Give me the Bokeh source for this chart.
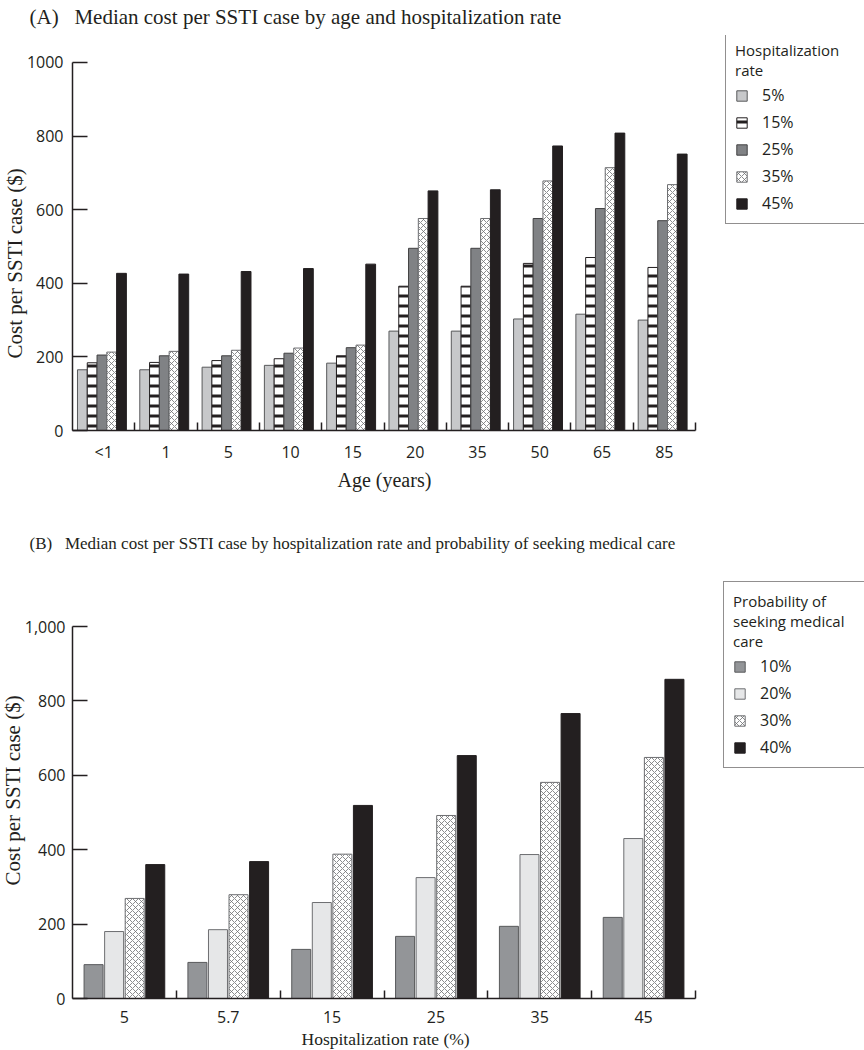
import numpy as np
from bokeh.plotting import figure
from bokeh.models import Range1d, FixedTicker, Legend, LegendItem, NumeralTickFormatter, Title
from bokeh.layouts import column
from bokeh.embed import file_html
from bokeh.resources import INLINE

# ---------------- data (A) ----------------
ages = ["<1", "1", "5", "10", "15", "20", "35", "50", "65", "85"]
hosp_labels = ["5%", "15%", "25%", "35%", "45%"]
a_5 = [165, 165, 172, 177, 183, 270, 270, 303, 316, 300]
a_15 = [184, 185, 190, 195, 203, 392, 392, 454, 470, 443]
a_25 = [205, 203, 203, 210, 225, 495, 495, 576, 603, 570]
a_35 = [213, 215, 218, 224, 232, 576, 576, 678, 714, 668]
a_45 = [427, 425, 432, 440, 452, 651, 654, 773, 808, 751]

# ---------------- data (B) ----------------
hosp_rates = ["5", "5.7", "15", "25", "35", "45"]
care_labels = ["10%", "20%", "30%", "40%"]
b_10 = [91, 97, 132, 167, 194, 218]
b_20 = [180, 185, 258, 325, 387, 430]
b_30 = [269, 279, 388, 492, 581, 648]
b_40 = [360, 368, 519, 653, 766, 858]

y_ticks = [0, 200, 400, 600, 800, 1000]

SERIF = "Liberation Serif"
SANS = "Open Sans"
INK = "#231f20"

styles_a = [
    dict(fill_color="#c7c8ca", line_color="#58595b"),
    dict(fill_color="white", line_color=INK, hatch_pattern="-", hatch_color=INK,
         hatch_weight=3, hatch_scale=10),
    dict(fill_color="#808285", line_color="#414042"),
    dict(fill_color="white", line_color="#6d6e71", hatch_pattern="x", hatch_color="#6d6e71",
         hatch_weight=0.8, hatch_scale=6),
    dict(fill_color=INK, line_color=INK),
]
styles_b = [
    dict(fill_color="#939598", line_color="#58595b"),
    dict(fill_color="#e6e7e8", line_color="#6d6e71"),
    dict(fill_color="white", line_color="#6d6e71", hatch_pattern="x", hatch_color="#6d6e71",
         hatch_weight=0.8, hatch_scale=6),
    dict(fill_color=INK, line_color=INK),
]

W = 864
LEFT = 72          # y-axis position (px)
AXIS_END = 695     # right end of the x axis (px)


def serif_title(text, size, offset, standoff, valign="bottom"):
    return Title(text=text, align="left", offset=offset, standoff=standoff,
                 vertical_align=valign,
                 text_font=SERIF, text_font_size=size, text_font_style="normal",
                 text_color=INK)


def make_fig(title, cats, height, frame_top, frame_bottom, zero_to_1000_px,
             title_size, title_standoff, title_valign, comma, ylab_offset, ytick_standoff):
    n = len(cats)
    frame_w = W - LEFT
    x_end = n * frame_w / (AXIS_END - LEFT)
    y_end = 1000 * (frame_bottom - frame_top) / zero_to_1000_px
    p = figure(width=W, height=height, output_backend="svg", toolbar_location=None,
               x_range=Range1d(0, x_end), y_range=Range1d(0, y_end),
               min_border_left=LEFT, min_border_right=0,
               min_border_top=frame_top, min_border_bottom=height - frame_bottom)
    p.title = serif_title(title, title_size, -43, title_standoff, title_valign)
    p.outline_line_color = None
    p.xgrid.visible = False
    p.ygrid.visible = False
    centers = [i + 0.5 for i in range(n)]
    p.xaxis.ticker = FixedTicker(ticks=centers, minor_ticks=list(range(1, n + 1)))
    p.xaxis.major_label_overrides = {c: lab for c, lab in zip(centers, cats)}
    p.xaxis.bounds = (0, n)
    p.yaxis.ticker = FixedTicker(ticks=y_ticks, minor_ticks=[])
    p.yaxis.bounds = (0, 1000)
    if comma:
        p.yaxis.formatter = NumeralTickFormatter(format="0,0")
    for ax in (p.xaxis[0], p.yaxis[0]):
        ax.axis_line_color = INK
        ax.axis_line_width = 1.5
        ax.major_label_text_font = SANS
        ax.major_label_text_font_size = "16px"
        ax.major_label_text_color = INK
    p.xaxis.major_tick_in = 0
    p.xaxis.major_tick_out = 0
    p.xaxis.minor_tick_in = 8
    p.xaxis.minor_tick_out = 0
    p.xaxis.minor_tick_line_width = 1.5
    p.xaxis.minor_tick_line_color = INK
    p.yaxis.major_tick_in = 15
    p.yaxis.major_tick_out = 0
    p.yaxis.major_tick_line_width = 1.5
    p.yaxis.major_tick_line_color = INK
    p.yaxis.minor_tick_line_color = None
    p.yaxis.major_label_standoff = ytick_standoff
    p.add_layout(serif_title("Cost per SSTI case ($)", "21px", ylab_offset, -6), "left")
    return p


def add_legend(p, items, title, loc, label_width):
    lg = Legend(items=items, location=loc, title=title,
                border_line_color=INK, border_line_width=1.5,
                background_fill_color="white", background_fill_alpha=1,
                padding=9, spacing=5, margin=0,
                glyph_width=13, glyph_height=13, label_standoff=14,
                label_width=label_width, label_height=20,
                label_text_font=SANS, label_text_font_size="16px", label_text_color=INK,
                title_text_font=SANS, title_text_font_size="15px", title_text_font_style="normal",
                title_text_color=INK, title_standoff=4)
    p.add_layout(lg)


# ---------------- figure A ----------------
A_H, A_TOP, A_BOT = 520, 34, 430
pa = make_fig("(A)\u00a0\u00a0\u00a0Median cost per SSTI case by age and hospitalization rate", ages,
              A_H, A_TOP, A_BOT, 369, "21px", 9, "top", False, 72, 9)
pa.xaxis.major_label_standoff = 10
pa.add_layout(serif_title("Age (years)", "20px", 265, 2), "below")
series_a = [a_5, a_15, a_25, a_35, a_45]
wa = 0.157
items_a = []
for k, (vals, st, lab) in enumerate(zip(series_a, styles_a, hosp_labels)):
    xs = [i + 0.08 + wa * (k + 0.5) for i in range(len(ages))]
    r = pa.vbar(x=xs, top=vals, bottom=0, width=wa, line_width=1, **st)
    items_a.append(LegendItem(label=lab, renderers=[r]))
add_legend(pa, items_a, "Hospitalization\nrate", (725 - LEFT, A_BOT - 224), 100)

# ---------------- figure B ----------------
B_H, B_TOP, B_BOT = 530, 40, 478
pb = make_fig("(B)\u00a0\u00a0\u00a0Median cost per SSTI case by hospitalization rate and probability of seeking medical care",
              hosp_rates, B_H, B_TOP, B_BOT, 372, "17px", 15, "bottom", True, 113, 7)
pb.xaxis.major_label_standoff = 12
pb.add_layout(serif_title("Hospitalization rate (%)", "17.5px", 229, 2), "below")
series_b = [b_10, b_20, b_30, b_40]
wb = 0.183
step_b = 0.198
items_b = []
for k, (vals, st, lab) in enumerate(zip(series_b, styles_b, care_labels)):
    xs = [i + 0.5 + step_b * (k - 1.5) for i in range(len(hosp_rates))]
    r = pb.vbar(x=xs, top=vals, bottom=0, width=wb, line_width=1, **st)
    items_b.append(LegendItem(label=lab, renderers=[r]))
add_legend(pb, items_b, "Probability of\nseeking medical\ncare", (723 - LEFT, B_BOT - 248), 102)

layout = column(pa, pb, spacing=0)
open("out.html", "w").write(file_html(layout, INLINE))
